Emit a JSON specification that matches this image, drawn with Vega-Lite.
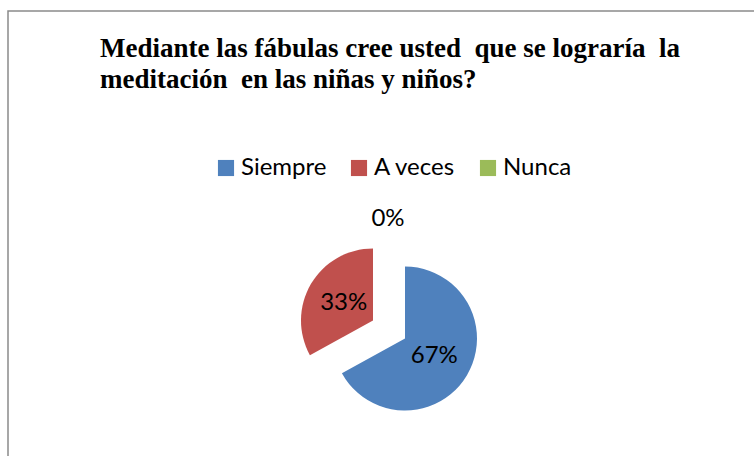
{
  "$schema": "https://vega.github.io/schema/vega-lite/v6.json",
  "autosize": {"type": "fit", "contains": "padding"},
  "width": 754,
  "height": 456,
  "padding": {"left": 8, "top": 11, "right": -48, "bottom": -210},
  "background": "white",
  "config": {
    "view": {"stroke": "#8a8a8a", "strokeWidth": 1.5},
    "style": {"view": {"stroke": "#8a8a8a", "strokeWidth": 1.5}, "cell": {"stroke": "#8a8a8a", "strokeWidth": 1.5}},
    "font": "Lato"
  },
  "title": {
    "text": ["Mediante las fábulas cree usted \u00a0que se lograría \u00a0la", "meditación \u00a0en las niñas y niños?"],
    "font": "Liberation Serif",
    "fontSize": 27,
    "fontWeight": "bold",
    "color": "black",
    "anchor": "start",
    "frame": "group",
    "orient": "top",
    "offset": -83,
    "dx": 92,
    "lineHeight": 31
  },
  "data": {
    "values": [
      {"respuesta": "Siempre", "porcentaje": 0.67, "orden": 1},
      {"respuesta": "A veces", "porcentaje": 0.33, "orden": 2},
      {"respuesta": "Nunca", "porcentaje": 0.0, "orden": 3}
    ]
  },
  "encoding": {
    "theta": {"field": "porcentaje", "type": "quantitative", "stack": true},
    "order": {"field": "orden", "type": "quantitative"}
  },
  "layer": [
    {
      "mark": {"type": "arc", "radius": 72},
      "encoding": {
        "color": {
          "field": "respuesta",
          "type": "nominal",
          "scale": {"domain": ["Siempre", "A veces", "Nunca"], "range": ["#4F81BD", "#C0504D", "#9BBB59"]},
          "legend": {
            "title": null,
            "orient": "none",
            "direction": "horizontal",
            "legendX": 206,
            "legendY": 145,
            "symbolType": "square",
            "symbolSize": 260,
            "symbolStrokeWidth": 0,
            "labelFont": "Lato",
            "labelFontSize": 24,
            "labelColor": "black",
            "labelOffset": 3,
            "columnPadding": 20
          }
        },
        "opacity": {"condition": {"test": "datum.respuesta !== 'A veces'", "value": 1}, "value": 0}
      }
    },
    {
      "mark": {"type": "arc", "radius": 72, "xOffset": -32, "yOffset": -18},
      "encoding": {
        "color": {"field": "respuesta", "type": "nominal"},
        "opacity": {"condition": {"test": "datum.respuesta === 'A veces'", "value": 1}, "value": 0}
      }
    },
    {
      "mark": {"type": "text", "radius": 34, "fontSize": 24, "font": "Lato", "color": "black"},
      "encoding": {
        "text": {"condition": {"test": "datum.respuesta === 'Siempre'", "field": "porcentaje", "type": "quantitative", "format": ".0%"}, "value": ""}
      }
    },
    {
      "mark": {"type": "text", "radius": 34, "fontSize": 24, "font": "Lato", "color": "black", "xOffset": -32, "yOffset": -18},
      "encoding": {
        "text": {"condition": {"test": "datum.respuesta === 'A veces'", "field": "porcentaje", "type": "quantitative", "format": ".0%"}, "value": ""}
      }
    },
    {
      "mark": {"type": "text", "radius": 120, "fontSize": 24, "font": "Lato", "color": "black", "xOffset": -17},
      "encoding": {
        "text": {"condition": {"test": "datum.respuesta === 'Nunca'", "field": "porcentaje", "type": "quantitative", "format": ".0%"}, "value": ""}
      }
    }
  ]
}
